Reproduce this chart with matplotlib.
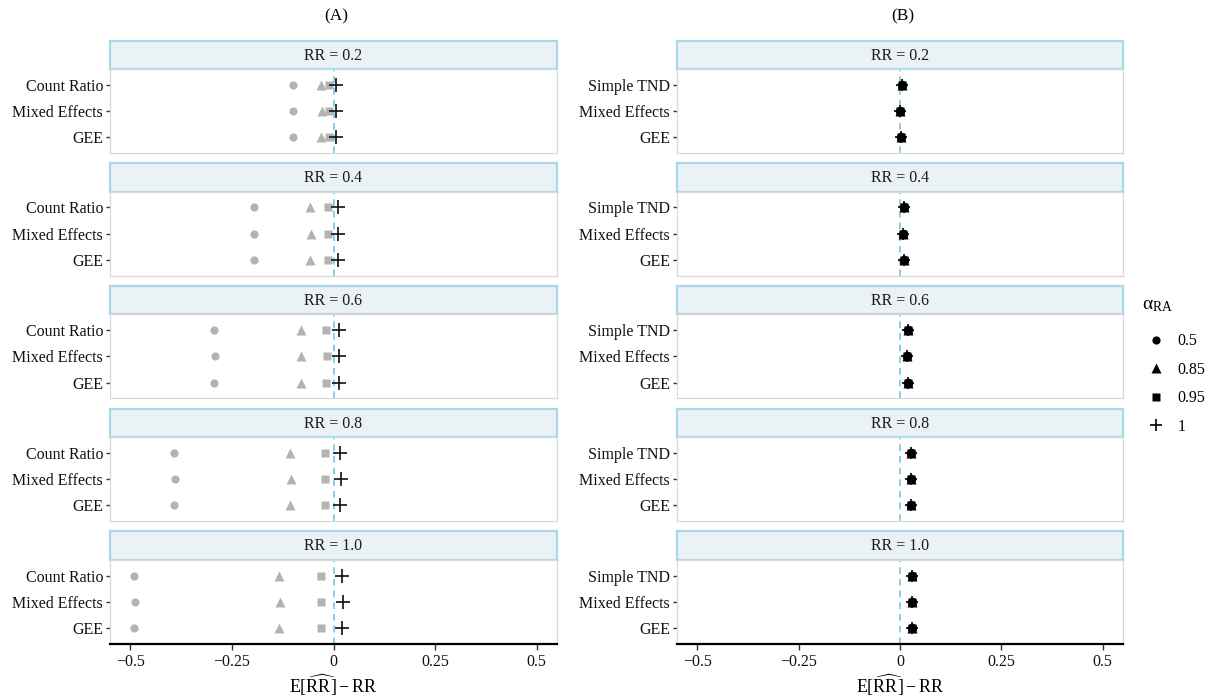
import matplotlib
matplotlib.use("Agg")
import matplotlib.pyplot as plt
from matplotlib.lines import Line2D

plt.rcParams['font.family'] = ['Liberation Serif', 'DejaVu Serif']
plt.rcParams['mathtext.fontset'] = 'custom'
plt.rcParams['mathtext.rm'] = 'Liberation Serif'
plt.rcParams['mathtext.it'] = 'Liberation Serif:italic'

# ---------------- data ----------------
rr_levels = ["RR = 0.2", "RR = 0.4", "RR = 0.6", "RR = 0.8", "RR = 1.0"]
alpha_levels = ["0.5", "0.85", "0.95", "1"]
methods_a = ["Count Ratio", "Mixed Effects", "GEE"]
methods_b = ["Simple TND", "Mixed Effects", "GEE"]

# Panel A: bias per RR level, per alpha level (rows: Count Ratio, Mixed Effects, GEE)
bias_a_05 = [[-0.100, -0.099, -0.100], [-0.195, -0.196, -0.195], [-0.293, -0.292, -0.293],
             [-0.392, -0.390, -0.392], [-0.490, -0.489, -0.490]]
bias_a_085 = [[-0.030, -0.029, -0.030], [-0.057, -0.056, -0.057], [-0.081, -0.080, -0.081],
              [-0.106, -0.105, -0.106], [-0.133, -0.132, -0.133]]
bias_a_095 = [[-0.012, -0.011, -0.012], [-0.014, -0.013, -0.014], [-0.018, -0.017, -0.018],
              [-0.022, -0.021, -0.022], [-0.031, -0.030, -0.031]]
bias_a_1 = [[0.006, 0.007, 0.006], [0.010, 0.011, 0.010], [0.013, 0.014, 0.013],
            [0.017, 0.019, 0.017], [0.021, 0.024, 0.021]]

# Panel B: bias per RR level (rows: Simple TND, Mixed Effects, GEE), same for all alpha levels
bias_b = [[0.005, 0.000, 0.003], [0.011, 0.007, 0.010], [0.020, 0.018, 0.020],
          [0.026, 0.026, 0.026], [0.030, 0.029, 0.030]]

xticks = [-0.5, -0.25, 0, 0.25, 0.5]
xticklabels = ["\u22120.5", "\u22120.25", "0", "0.25", "0.5"]

# ---------------- style ----------------
W, H = 1222, 698
GREY = "#B3B3B3"
STRIP_FILL = "#EBF2F6"
STRIP_EDGE = "#A9D9E8"
VLINE = "#7CC4E0"
PANEL_EDGE = "#D9D9D9"
markers_a = {"0.5": ("o", 5.9), "0.85": ("^", 7.4), "0.95": ("s", 5.4), "1": ("+", 9.5)}
markers_b = {"0.5": ("o", 6.8), "0.85": ("^", 7.8), "0.95": ("s", 5.8), "1": ("+", 8.0)}

fig = plt.figure(figsize=(W / 100, H / 100), dpi=100)


def fr(x0, y0, x1, y1):
    return [x0 / W, 1 - y1 / H, (x1 - x0) / W, (y1 - y0) / H]


top0 = 40.5
period = 122.7
strip_h = 28.5
panel_h = 84.0
cols = [(110, 557), (677, 1123)]

for c, (xl, xr) in enumerate(cols):
    mk = markers_a if c == 0 else markers_b
    for i, lab in enumerate(rr_levels):
        ys = top0 + i * period
        # strip
        sax = fig.add_axes(fr(xl, ys, xr, ys + strip_h))
        sax.set_facecolor(STRIP_FILL)
        for s in sax.spines.values():
            s.set_color(STRIP_EDGE)
            s.set_linewidth(1.6)
        sax.set_xticks([])
        sax.set_yticks([])
        sax.text(0.5, 0.47, lab, ha="center", va="center", fontsize=11.5,
                 color="#1A1A1A", transform=sax.transAxes)
        # panel
        ax = fig.add_axes(fr(xl, ys + strip_h, xr, ys + strip_h + panel_h))
        ax.set_xlim(-0.55, 0.55)
        ax.set_ylim(3.6, 0.4)
        ax.axvline(0, color=VLINE, ls=(0, (4, 3)), lw=1.2, zorder=1)
        meths = methods_a if c == 0 else methods_b
        ypos = [1, 2, 3]
        if c == 0:
            series = [("0.5", bias_a_05[i], GREY), ("0.85", bias_a_085[i], GREY),
                      ("0.95", bias_a_095[i], GREY), ("1", bias_a_1[i], "#111111")]
        else:
            series = [(a, bias_b[i], "black") for a in alpha_levels]
        for a, vals, col in series:
            m, ms = mk[a]
            if m == "+":
                ax.plot(vals, ypos, ls="none", marker=m, ms=ms, mew=1.2, color=col, zorder=3)
            else:
                ax.plot(vals, ypos, ls="none", marker=m, ms=ms, mec="none", color=col, zorder=3)
        ax.set_yticks(ypos)
        ax.set_yticklabels(meths, fontsize=11.5, color="#111111")
        ax.tick_params(axis="y", length=3, width=1, color="#333333", pad=2)
        for s in ax.spines.values():
            s.set_color(PANEL_EDGE)
            s.set_linewidth(0.9)
        if i == len(rr_levels) - 1:
            ax.spines["bottom"].set_color("black")
            ax.spines["bottom"].set_linewidth(1.6)
            ax.set_xticks(xticks)
            ax.set_xticklabels(xticklabels, fontsize=11.5, color="#111111")
            ax.tick_params(axis="x", length=4, width=1, color="#333333", pad=3)
            ax.set_xlabel(r"$\mathrm{E}[\widehat{\mathrm{RR}}] - \mathrm{RR}$", fontsize=13, labelpad=2)
        else:
            ax.set_xticks([])
    fig.text(((xl + xr) / 2 + 3) / W, 1 - 16 / H, "(A)" if c == 0 else "(B)",
             ha="center", va="center", fontsize=12.5)

# legend
handles = []
for a in alpha_levels:
    m, ms = markers_a[a]
    if m == "+":
        handles.append(Line2D([], [], ls="none", marker=m, ms=8.5, mew=1.2, color="black"))
    else:
        handles.append(Line2D([], [], ls="none", marker=m, ms=ms, mec="none", color="black"))
fig.text(1142 / W, 1 - 305 / H, "$\\mathrm{\u03b1}_{\\mathrm{RA}}$", ha="left", va="center",
         fontsize=14)
leg = fig.legend(handles, alpha_levels,
                 loc="upper left", bbox_to_anchor=(1143 / W, 1 - 330 / H),
                 frameon=False, fontsize=11.5,
                 handlelength=1.2, handletextpad=0.75, labelspacing=0.78,
                 borderaxespad=0, borderpad=0.2)

fig.savefig("out.png", dpi=100)
